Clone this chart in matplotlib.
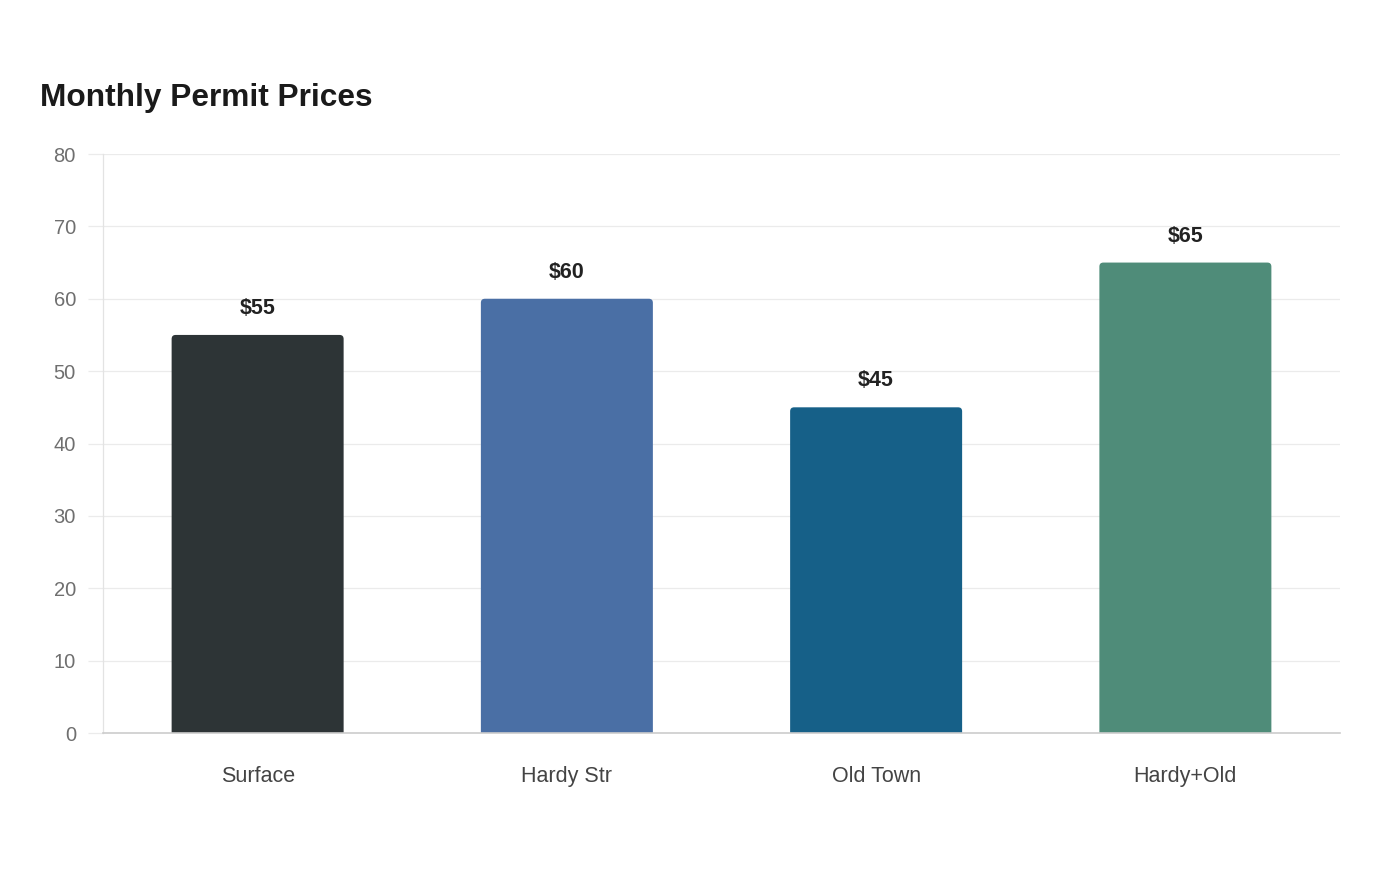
import matplotlib
matplotlib.use("Agg")
import matplotlib.pyplot as plt
from matplotlib.patches import FancyBboxPatch

categories = ["Surface", "Hardy Str", "Old Town", "Hardy+Old"]
prices = [55, 60, 45, 65]
value_labels = ["$55", "$60", "$45", "$65"]
colors = ["#2d3436", "#4a6fa5", "#166088", "#4f8c79"]
yticks = [0, 10, 20, 30, 40, 50, 60, 70, 80]

plt.rcParams['font.family'] = ['Liberation Sans', 'DejaVu Sans']

W, H, DPI = 1400, 880, 100
fig = plt.figure(figsize=(W / DPI, H / DPI), dpi=DPI)
left, right, top, bottom = 103, 1340, 154, 733
ax = fig.add_axes([left / W, 1 - bottom / H, (right - left) / W, (bottom - top) / H])

xlim = (-0.5, len(categories) - 0.5)
ylim = (0, 80)
ax.set_xlim(*xlim)
ax.set_ylim(*ylim)

xpp = (xlim[1] - xlim[0]) / (right - left)
ypp = (ylim[1] - ylim[0]) / (bottom - top)
radius_px = 4
bar_w = 172 * xpp

for i, (v, c) in enumerate(zip(prices, colors)):
    p = FancyBboxPatch((i - bar_w / 2, -2), bar_w, v + 2,
                       boxstyle=f"round,pad=0,rounding_size={radius_px * xpp}",
                       mutation_aspect=ypp / xpp,
                       facecolor=c, edgecolor="none", zorder=3, clip_on=True)
    ax.add_patch(p)
    ax.annotate(value_labels[i], (i, v), xytext=(0, 19), textcoords="offset points",
                ha="center", va="center", fontsize=15.5, fontweight="bold",
                color="#222222", zorder=4)

ax.set_yticks(yticks)
ax.set_xticks(range(len(categories)))
ax.set_xticklabels(categories)
ax.grid(axis="y", color="#ebebeb", linewidth=0.9, zorder=0)
ax.set_axisbelow(True)
ax.tick_params(axis="y", length=11, width=0.9, color="#ebebeb", labelsize=14.5,
               labelcolor="#6f6f6f", pad=8.5)
ax.tick_params(axis="x", length=0, labelsize=15.5, labelcolor="#444444", pad=24)
for s in ["top", "right"]:
    ax.spines[s].set_visible(False)
ax.spines["left"].set_color("#e3e3e3")
ax.spines["left"].set_linewidth(0.9)
ax.spines["bottom"].set_color("#cccccc")
ax.spines["bottom"].set_linewidth(1.2)
ax.spines["bottom"].set_zorder(5)

fig.text(40 / W, 1 - 106 / H, "Monthly Permit Prices", fontsize=22.8, fontweight="bold",
         color="#1a1a1a", ha="left", va="baseline")

fig.savefig("out.png", dpi=DPI, facecolor="white")
